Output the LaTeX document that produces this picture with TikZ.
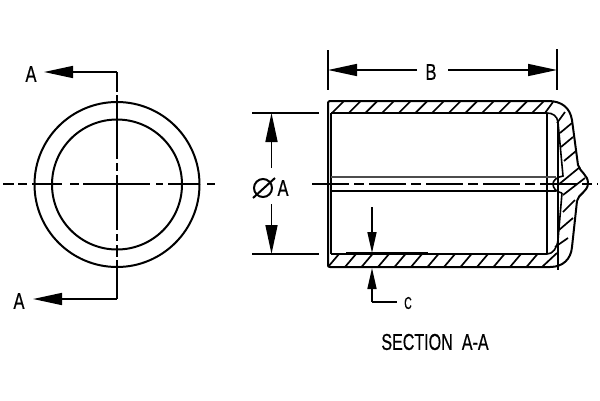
\documentclass[tikz,border=0pt]{standalone}
\usepackage{fontspec}
\setmainfont[FakeBold=0.6]{Liberation Sans}
\usetikzlibrary{arrows.meta}
\tikzset{
  part/.style={line width=2pt,black},
  thinpart/.style={line width=1.6pt,black},
  hatching/.style={line width=1.7pt,black},
  dimline/.style={line width=1.7pt,black},
  dimarrow/.style={line width=1.6pt,black,-{Triangle[length=29pt,width=12pt]}},
  shortarrow/.style={line width=1.6pt,black,-{Triangle[length=21pt,width=9pt]}},
  sectionline/.style={line width=1.9pt,black,dash pattern=on 37pt off 5pt on 10pt off 5pt},
  label/.style={inner sep=0pt,font=\fontsize{23}{23}\selectfont,xscale=0.72}
}
\begin{document}
\begin{tikzpicture}[x=1pt,y=-1pt]
\useasboundingbox(0,0)rectangle(600,400);

\draw[part](117,184.5)circle(82.5);
\draw[part](117,184.5)circle(65);
\draw[dimline](3,184)--(14,184)(18,184)--(27,184)(32,184)--(62,184)(70,184)--(79,184)(83,184)--(150,184)(156,184)--(163,184)(168,184)--(200,184)(207,184)--(215,184);
\draw[dimline](117,95)--(117,159)(117,163)--(117,171)(117,175)--(117,230)(117,234)--(117,241)(117,245)--(117,257)(117,260)--(117,299);
\draw[dimline](117,92)--(117,72);
\draw[dimarrow](117,72)--(44,72);
\draw[dimarrow](117,299)--(33,299);
\node[label](cutnorth)at(31,74){A};
\node[label](cutsouth)at(19,301){A};

\draw[part,rounded corners=2pt](548,101)--(328,101)--(328,267)--(550,267);
\draw[part](548,101)..controls(562,101)and(570,108)..(572,120);
\draw[part](572,120)--(578,165)..controls(580,172)and(588,175)..(588,183);
\draw[part](588,183)..controls(588,192)and(578,194)..(577,201);
\draw[part](577,201)--(572,247)..controls(571,259)and(563,267)..(550,267);
\draw[thinpart](331,113)--(547,113);
\draw[thinpart](331,254)--(547,254);
\draw[part](331,113)--(331,254);
\draw[thinpart](547,113)--(547,254);
\draw[thinpart](547,113)..controls(553,113)and(557,116)..(558,122);
\draw[thinpart](558,122)--(563,176)..controls(556,177)and(553,181)..(553,184);
\draw[thinpart](553,184)..controls(553,188)and(556,192)..(562,193);
\draw[thinpart](562,193)--(558,240)..controls(557,248)and(553,254)..(547,254);
\draw[thinpart](558,120)--(558,270);
\draw[line width=2pt,black!70](331,177)--(556,177);
\draw[part](331,190.5)--(556,190.5);
\draw[sectionline](312,184)--(598,184);

\draw[hatching](332,113)--(344,101)(348.7,113)--(360.7,101)(365.3,113)--(377.3,101)(382,113)--(394,101)(398.7,113)--(410.7,101)(415.3,113)--(427.3,101)(432,113)--(444,101)(448.7,113)--(460.7,101)(465.3,113)--(477.3,101)(482,113)--(494,101)(498.7,113)--(510.7,101)(515.3,113)--(527.3,101)(532,113)--(544,101)(545,113)--(553,102)(557,123)--(565,112);
\draw[hatching](328,267)--(339,254)(345,267)--(356,254)(361.5,267)--(372.5,254)(378,267)--(389,254)(394.5,267)--(405.5,254)(411,267)--(422,254)(427.5,267)--(438.5,254)(444,267)--(455,254)(460.5,267)--(471.5,254)(477,267)--(488,254)(493.5,267)--(504.5,254)(510,267)--(521,254)(526.5,267)--(537.5,254)(542,267)--(557,253);
\draw[hatching](560,133)--(572,123)(561,147)--(573,137)(564,161)--(576,151)(558,185)--(580,167)(563,195)--(585,178)(563,212)--(575,200)(559,230)--(573,218)(555,247)--(568,238);

\draw[dimline](328,50)--(328,90);
\draw[dimline](557,49)--(557,90);
\node[label](widthB)at(431,72){B};
\draw[dimarrow](417,70)--(328,70);
\draw[dimarrow](448,70)--(557,70);

\draw[dimline](252,113)--(319,113);
\draw[dimline](252,254)--(319,254);
\node[label](diameterA)at(283,188){A};
\draw[line width=2pt](263,188)circle(9);
\draw[line width=2pt](253,198)--(275,178);
\draw[dimarrow](271.5,168)--(271.5,113);
\draw[dimarrow](271.5,204)--(271.5,254);

\draw[line width=2pt](346,253)--(428,253);
\draw[shortarrow](372,207)--(372,253);
\draw[shortarrow](372,302)--(372,268);
\draw[dimline](372,302)--(397,302);
\node[label,font=\fontsize{17}{17}\selectfont,xscale=0.85](wallC)at(408,303){C};
\node[label,xscale=0.97](sectionAA)at(435,342){SECTION\hspace{13pt}A-A};
\end{tikzpicture}
\end{document}
